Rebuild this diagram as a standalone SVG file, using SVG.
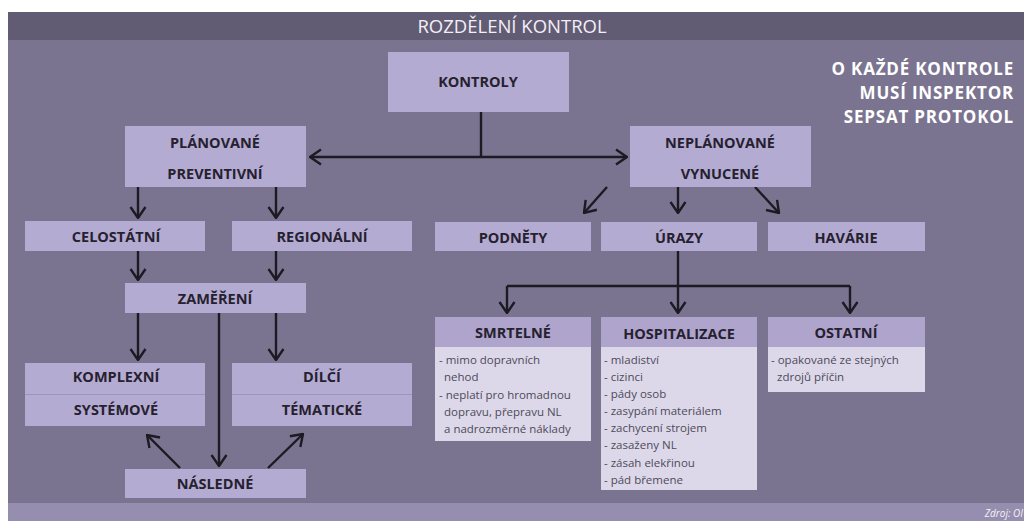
<svg xmlns="http://www.w3.org/2000/svg" width="1024" height="521" viewBox="0 0 1024 521">
<defs>
<marker id="ah" viewBox="0 0 13 18" refX="12" refY="9" markerWidth="13" markerHeight="18" markerUnits="userSpaceOnUse" orient="auto-start-reverse">
<path d="M1,1.5 L12,9 L1,16.5" fill="none" stroke="#1c1a22" stroke-width="2.4" stroke-linejoin="miter"/>
</marker>
<style>
.box{fill:#b4abd2}
.hdr{fill:#aea4cc}
.body{fill:#dcd8ea}
.lbl{font-family:"Open Sans","Liberation Sans",sans-serif;font-weight:bold;font-size:14.5px;fill:#26212f;text-anchor:middle}
.txt{font-family:"Open Sans","Liberation Sans",sans-serif;font-size:11.5px;fill:#4e4a58}
.con{fill:none;stroke:#1c1a22;stroke-width:2.4}
.arr{fill:none;stroke:#1c1a22;stroke-width:2.4;marker-end:url(#ah)}
.note{font-family:"Open Sans","Liberation Sans",sans-serif;font-weight:bold;font-size:17px;letter-spacing:0.8px;fill:#ffffff;text-anchor:end}
</style>
</defs>
<rect x="0" y="0" width="1024" height="521" fill="#ffffff"/>
<rect x="8" y="40" width="1016" height="463" fill="#7b7490"/>
<rect x="8" y="12" width="1016" height="28" fill="#625b74"/>
<rect x="8" y="503" width="1016" height="18" fill="#968eae"/>
<text x="512" y="33" text-anchor="middle" font-family="'Open Sans','Liberation Sans',sans-serif" font-size="18.5" fill="#f2f0f6">ROZDĚLENÍ KONTROL</text>
<g id="note">
<text class="note" x="1014" y="75">O KAŽDÉ KONTROLE</text>
<text class="note" x="1014" y="99">MUSÍ INSPEKTOR</text>
<text class="note" x="1014" y="123">SEPSAT PROTOKOL</text>
</g>
<text x="1023" y="517" text-anchor="end" font-family="'Open Sans','Liberation Sans',sans-serif" font-style="italic" font-size="10" fill="#f4f2f8">Zdroj: OI</text>

<g id="connectors">
<polyline class="con" points="481,112 481,157"/>
<line x1="310" y1="157" x2="627" y2="157" class="con" marker-start="url(#ah)" marker-end="url(#ah)"/>
<line class="arr" x1="138" y1="187" x2="138" y2="218"/>
<line class="arr" x1="276" y1="187" x2="276" y2="218"/>
<line class="arr" x1="138" y1="251" x2="138" y2="280"/>
<line class="arr" x1="276" y1="251" x2="276" y2="280"/>
<line class="arr" x1="138" y1="313" x2="138" y2="360"/>
<line class="arr" x1="276" y1="313" x2="276" y2="360"/>
<line class="arr" x1="219" y1="313" x2="219" y2="466"/>
<line class="arr" x1="180" y1="468" x2="147" y2="435"/>
<line class="arr" x1="268" y1="468" x2="303" y2="434"/>
<line class="arr" x1="607" y1="187" x2="584" y2="213"/>
<line class="arr" x1="678" y1="187" x2="678" y2="213"/>
<line class="arr" x1="755" y1="187" x2="779" y2="213"/>
<polyline class="con" points="678,251 678,286"/>
<line class="con" x1="507" y1="286" x2="850" y2="286"/>
<line class="arr" x1="507" y1="286" x2="507" y2="313"/>
<line class="arr" x1="678" y1="286" x2="678" y2="313"/>
<line class="arr" x1="850" y1="286" x2="850" y2="313"/>
</g>

<g id="kontroly">
<rect class="box" x="388" y="52" width="181" height="60"/>
<text class="lbl" x="478" y="87">KONTROLY</text>
</g>
<g id="planovane">
<rect class="box" x="125" y="126" width="181" height="61"/>
<text class="lbl" x="215" y="148">PLÁNOVANÉ</text>
<text class="lbl" x="215" y="179">PREVENTIVNÍ</text>
</g>
<g id="neplanovane">
<rect class="box" x="630" y="126" width="181" height="61"/>
<text class="lbl" x="720" y="148">NEPLÁNOVANÉ</text>
<text class="lbl" x="720" y="179">VYNUCENÉ</text>
</g>
<g id="celostatni">
<rect class="box" x="25" y="221" width="180" height="30"/>
<text class="lbl" x="116" y="242">CELOSTÁTNÍ</text>
</g>
<g id="regionalni">
<rect class="box" x="232" y="221" width="180" height="30"/>
<text class="lbl" x="322" y="242">REGIONÁLNÍ</text>
</g>
<g id="zamereni">
<rect class="box" x="125" y="283" width="181" height="30"/>
<text class="lbl" x="215" y="304">ZAMĚŘENÍ</text>
</g>
<g id="komplexni">
<rect class="box" x="25" y="363" width="180" height="63"/>
<line x1="25" y1="394.5" x2="205" y2="394.5" stroke="#9e95bd" stroke-width="1"/>
<text class="lbl" x="116" y="382">KOMPLEXNÍ</text>
<text class="lbl" x="116" y="415">SYSTÉMOVÉ</text>
</g>
<g id="dilci">
<rect class="box" x="232" y="363" width="180" height="63"/>
<line x1="232" y1="394.5" x2="412" y2="394.5" stroke="#9e95bd" stroke-width="1"/>
<text class="lbl" x="322" y="382">DÍLČÍ</text>
<text class="lbl" x="322" y="415">TÉMATICKÉ</text>
</g>
<g id="nasledne">
<rect class="box" x="125" y="469" width="181" height="29"/>
<text class="lbl" x="215" y="489">NÁSLEDNÉ</text>
</g>
<g id="podnety">
<rect class="box" x="435" y="222" width="156" height="29"/>
<text class="lbl" x="513" y="243">PODNĚTY</text>
</g>
<g id="urazy">
<rect class="box" x="601" y="222" width="156" height="29"/>
<text class="lbl" x="679" y="243">ÚRAZY</text>
</g>
<g id="havarie">
<rect class="box" x="768" y="222" width="157" height="29"/>
<text class="lbl" x="846" y="243">HAVÁRIE</text>
</g>
<g id="smrtelne">
<rect class="hdr" x="435" y="317" width="156" height="30"/>
<rect class="body" x="435" y="347" width="156" height="94"/>
<text class="lbl" x="513" y="338">SMRTELNÉ</text>
<text class="txt" x="439" y="364">- mimo dopravních</text>
<text class="txt" x="444" y="381">nehod</text>
<text class="txt" x="439" y="399">- neplatí pro hromadnou</text>
<text class="txt" x="444" y="416">dopravu, přepravu NL</text>
<text class="txt" x="444" y="433">a nadrozměrné náklady</text>
</g>
<g id="hospitalizace">
<rect class="hdr" x="601" y="317" width="156" height="30"/>
<rect class="body" x="601" y="347" width="156" height="143"/>
<text class="lbl" x="679" y="339">HOSPITALIZACE</text>
<text class="txt" x="604" y="364">- mladiství</text>
<text class="txt" x="604" y="381">- cizinci</text>
<text class="txt" x="604" y="398">- pády osob</text>
<text class="txt" x="604" y="415">- zasypání materiálem</text>
<text class="txt" x="604" y="432">- zachycení strojem</text>
<text class="txt" x="604" y="449">- zasaženy NL</text>
<text class="txt" x="604" y="467">- zásah elekřinou</text>
<text class="txt" x="604" y="484">- pád břemene</text>
</g>
<g id="ostatni">
<rect class="hdr" x="768" y="317" width="157" height="30"/>
<rect class="body" x="768" y="347" width="157" height="45"/>
<text class="lbl" x="846" y="338">OSTATNÍ</text>
<text class="txt" x="771" y="364">- opakované ze stejných</text>
<text class="txt" x="777" y="381">zdrojů příčin</text>
</g>
</svg>
